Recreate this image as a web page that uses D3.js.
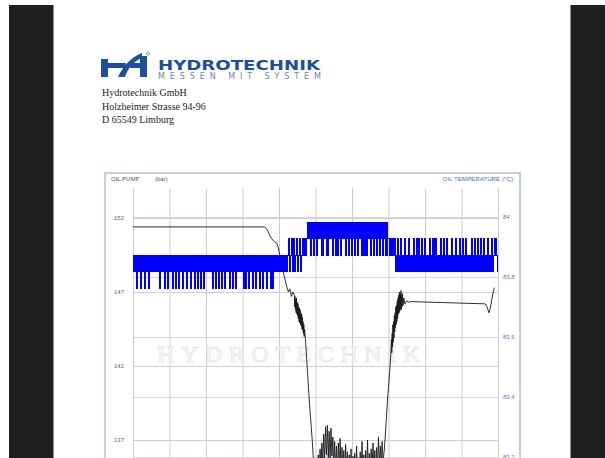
<!DOCTYPE html>
<html>
<head>
<meta charset="utf-8">
<script src="https://cdn.jsdelivr.net/npm/d3@7"></script>
<style>
body { margin: 0; background: #fff; overflow: hidden; }
svg { display: block; }
</style>
</head>
<body>
<div id="chart"></div>
<script>
var timeTicks = [0, 10, 20, 30, 40, 50, 60, 70, 80, 90, 100];
var pumpTicks = [137, 142, 147, 152];
var tempTicks = [83.2, 83.4, 83.6, 83.8, 84];

// temperature sensor steps (°C) and the sampled step index, one char per 0.2 s
var tempLevels = [83.763, 83.818, 83.873, 83.928, 83.983];
var sampleStep = 0.2;
var tempCodes = [
    "2121202121 2021210212 1202121212 1212120212 2121021202",
    "1212021201 2120212102 1212021210 2121202120 1210212021",
    "2121212120 2120212021 2102120212 1202121021 2021212121",
    "2021202120 2121021202 1212021201 2120212102 1202121212",
    "1212121212 2123212321 3212321232 1232323234 3434243424",
    "3424343424 2434342434 3434243424 2434243434 3424342434",
    "2434243424 3434243424 2434342434 2434243424 3424342423",
    "3232323232 1213121312 2131212131 2121312131 2131213121",
    "3121213121 3121312121 2131213121 3121213121 2131212131",
    "2131213121 2121312131 2131213121 3121213121 2131232321"
];

// oil pump pressure [s, bar]
var pumpHead = [[0,151.4],[36.0,151.4],[36.5,151.3],[37.0,151.1],[37.5,150.8],[38.0,150.6],[38.7,150.4],
    [39.4,150.3],[39.8,150.0],[40.3,149.4],[40.8,148.8],[41.3,148.2],[41.8,147.7],[42.2,147.3],
    [42.6,147.0],[43.0,147.2],[43.4,146.7],[43.8,147.0],[44.2,146.8]];
var pumpDrop = [[44.3,146.0],[44.4,146.7],[44.5,145.8],[44.6,146.5],[44.7,145.6],[44.8,146.6],[44.9,145.5],
    [45.0,146.3],[45.1,145.4],[45.2,146.2],[45.3,145.2],[45.4,146.0],[45.5,145.0],[45.6,145.9],[45.7,144.9],
    [45.8,145.8],[45.9,144.8],[46.0,145.6],[46.1,144.7],[46.2,145.5],[46.3,144.5],[46.4,145.3],[46.5,144.4],
    [46.6,145.0],[46.7,144.2],[46.8,144.8],[46.9,144.0],[47.0,144.5],[47.3,143.6],[47.6,142.4],[47.9,141.2],
    [48.2,140.0],[48.5,139.0],[48.8,138.0],[49.1,137.0],[49.4,135.8],[49.7,134.8],[50.0,134.2]];
var pumpTrough = [[50.25,135.6],[50.5,134.8],[50.75,136.0],[51.0,135.0],[51.25,136.4],[51.5,135.2],[51.75,136.8],
    [52.0,135.4],[52.25,137.4],[52.5,135.6],[52.75,137.9],[53.0,136.0],[53.25,138.0],[53.5,135.8],[53.75,137.6],
    [54.0,135.5],[54.25,137.8],[54.5,135.9],[54.75,137.2],[55.0,135.3],[55.25,136.9],[55.5,135.0],[55.75,136.6],
    [56.0,134.8],[56.25,136.8],[56.5,135.1],[56.75,137.1],[57.0,134.9],[57.25,136.5],[57.5,134.7],[57.75,136.3],
    [58.0,134.6],[58.25,136.7],[58.5,134.9],[58.75,136.2],[59.0,134.5],[59.25,136.0],[59.5,134.7],[59.75,136.4],
    [60.0,134.6],[60.25,135.9],[60.5,134.4],[60.75,136.1],[61.0,134.5],[61.25,136.6],[61.5,134.8],[61.75,135.8],
    [62.0,134.3],[62.25,136.2],[62.5,134.6],[62.75,136.9],[63.0,134.7],[63.25,136.0],[63.5,134.4],[63.75,136.3],
    [64.0,134.5],[64.25,137.0],[64.5,134.8],[64.75,136.1],[65.0,134.6],[65.25,136.4],[65.5,134.9],[65.75,136.8],
    [66.0,135.0],[66.25,136.3],[66.5,134.7],[66.75,136.5],[67.0,135.2],[67.25,137.2],[67.5,135.4],[67.75,136.6],
    [68.0,135.3],[68.25,136.9],[68.5,135.6]];
var pumpRise = [[68.8,136.2],[69.1,137.2],[69.4,138.4],[69.7,139.6],[70.0,140.6],[70.3,141.6],[70.6,142.6],
    [70.8,143.8],[70.9,142.9],[71.0,144.2],[71.1,143.3],[71.2,144.8],[71.3,143.6],[71.4,145.0],[71.5,143.9],
    [71.6,145.4],[71.7,144.3],[71.8,145.6],[71.9,144.6],[72.0,146.0],[72.1,144.8],[72.2,146.1],[72.3,145.0],
    [72.4,146.4],[72.5,145.2],[72.6,146.6],[72.7,145.5],[72.8,146.8],[72.9,145.6],[73.0,147.0],[73.1,145.7],
    [73.2,146.9],[73.3,145.9],[73.4,147.1],[73.5,145.8],[73.6,146.8],[73.7,146.0],[73.8,146.9],[74.0,146.1],
    [74.2,146.6],[74.5,146.2],[75.0,146.4],[75.5,146.3]];
var pumpTail = [[76.0,146.35],[96.5,146.2],[97.0,146.0],[97.5,145.6],[97.9,145.9],[98.3,146.5],[98.7,147.0],
    [99.0,147.3]];

var addressLines = ["Hydrotechnik GmbH", "Holzheimer Strasse 94-96", "D 65549 Limburg"];

// ---------- layout ----------
var W = 605, H = 458;
var plotLeft = 133, plotRight = 498, plotTop = 188, plotBottom = 560;

var svg = d3.select("#chart").append("svg")
    .attr("width", W)
    .attr("height", H)
    .style("background", "#fff");

// viewer frame (dark side bars)
svg.append("rect").attr("x", 9).attr("y", 5).attr("width", 44).attr("height", H).attr("fill", "#1f1f1f");
svg.append("rect").attr("x", 571).attr("y", 5).attr("width", 34).attr("height", H).attr("fill", "#1f1f1f");
svg.append("line").attr("x1", 53.5).attr("x2", 53.5).attr("y1", 5).attr("y2", H).attr("stroke", "#8a8a8a");
svg.append("line").attr("x1", 570.5).attr("x2", 570.5).attr("y1", 5).attr("y2", H).attr("stroke", "#8a8a8a");

/******************************
/* logo + address
******************************/
var blue = "#1c4f9f";
var logo = svg.append("g").attr("transform", "translate(101,52)").attr("fill", blue);
logo.append("path").attr("d", "M0,7 L7,7 L7,25 L0,25 Z");
logo.append("path").attr("d", "M0,11 L25,11 L24,16 L0,16 Z");
logo.append("path").attr("d", "M17,25 C22,14 30,5 41,1 L41,6 C33,9 27,16 24,25 Z");
logo.append("path").attr("d", "M39,4 L46,4 L46,25 L39,25 Z");
logo.append("path").attr("d", "M30,11 L46,11 L46,16 L29,16 Z");
logo.append("circle").attr("cx", 47).attr("cy", 1.5).attr("r", 1.5).attr("fill", "none")
    .attr("stroke", blue).attr("stroke-width", 0.6);

svg.append("text")
    .attr("x", 158).attr("y", 69.5)
    .attr("textLength", 162).attr("lengthAdjust", "spacingAndGlyphs")
    .attr("font-family", "DejaVu Sans").attr("font-weight", "bold").attr("font-size", 14)
    .attr("fill", blue)
    .text("HYDROTECHNIK");
svg.append("text")
    .attr("x", 158).attr("y", 79)
    .attr("textLength", 163).attr("lengthAdjust", "spacing")
    .attr("font-family", "DejaVu Sans").attr("font-size", 8)
    .attr("fill", "#6f86b0")
    .text("MESSEN MIT SYSTEM");

svg.selectAll("text.addr")
    .data(addressLines)
    .enter()
    .append("text")
    .attr("class", "addr")
    .attr("x", 102)
    .attr("y", function(d, i) { return 96 + i * 13.5; })
    .attr("font-family", "Liberation Serif").attr("font-size", 10)
    .attr("fill", "#222")
    .text(function(d) { return d; });

/******************************
/* chart
******************************/
svg.append("rect")
    .attr("x", 105).attr("y", 173).attr("width", 415).attr("height", 400)
    .attr("fill", "#fff").attr("stroke", "#a9c2de").attr("stroke-width", 1.5);

var x = d3.scaleLinear().domain([0, 100]).range([plotLeft, plotRight]);
var yPump = d3.scaleLinear().domain([137, 152]).range([440, 218]);
var yTemp = d3.scaleLinear().domain([83.2, 84]).range([457, 217]);

var deFormat = d3.formatLocale({ decimal: ",", thousands: ".", grouping: [3], currency: ["", " €"] }).format(".1~f");

// temperature grid + labels
var tempAxis = svg.append("g")
    .attr("transform", "translate(" + plotRight + ",0)")
    .call(d3.axisRight(yTemp).tickValues(tempTicks).tickSize(-(plotRight - plotLeft)).tickPadding(5).tickFormat(deFormat));
tempAxis.select(".domain").remove();
tempAxis.selectAll("line").attr("stroke", "#d3d3f6");
tempAxis.selectAll("text").attr("fill", "#6b6be0").attr("font-size", 6).attr("font-family", "Liberation Sans");

// pressure grid + labels
var pumpAxis = svg.append("g")
    .attr("transform", "translate(" + plotLeft + ",0)")
    .call(d3.axisLeft(yPump).tickValues(pumpTicks).tickSize(-(plotRight - plotLeft)).tickPadding(9));
pumpAxis.select(".domain").remove();
pumpAxis.selectAll("line").attr("stroke", "#cfcfd8");
pumpAxis.selectAll("text").attr("fill", "#666").attr("font-size", 6).attr("font-family", "Liberation Sans");

// time grid
var timeAxis = svg.append("g")
    .attr("transform", "translate(0," + plotTop + ")")
    .call(d3.axisBottom(x).tickValues(timeTicks).tickSize(plotBottom - plotTop).tickFormat(""));
timeAxis.select(".domain").remove();
timeAxis.selectAll("line").attr("stroke", "#cdcdcd");

svg.append("text").attr("x", 111).attr("y", 181)
    .attr("font-family", "Liberation Sans").attr("font-size", 6).attr("fill", "#555").text("OIL PUMP");
svg.append("text").attr("x", 155).attr("y", 181)
    .attr("font-family", "Liberation Sans").attr("font-size", 6).attr("fill", "#555").text("(bar)");
svg.append("text").attr("x", 513).attr("y", 181).attr("text-anchor", "end")
    .attr("font-family", "Liberation Sans").attr("font-size", 6.2).attr("fill", "#4c6ee0").text("OIL TEMPERATURE (°C)");

// watermark
svg.append("text")
    .attr("x", 157).attr("y", 362)
    .attr("textLength", 263).attr("lengthAdjust", "spacing")
    .attr("font-family", "Liberation Serif").attr("font-size", 24)
    .attr("fill", "#fbfbfb").attr("stroke", "#e2e2e2").attr("stroke-width", 0.7)
    .text("HYDROTECHNIK");

// pressure trace
var pumpData = pumpHead.concat(pumpDrop, pumpTrough, pumpRise, pumpTail);
var pumpLine = d3.line()
    .x(function(d) { return x(d[0]); })
    .y(function(d) { return yPump(d[1]); });
svg.append("path")
    .datum(pumpData)
    .attr("d", pumpLine)
    .attr("fill", "none")
    .attr("stroke", "#1a1a1a")
    .attr("stroke-width", 0.9);

// temperature trace: one rect per sample, spanning the levels it touches
var tempData = tempCodes.join("").replace(/ /g, "").split("").map(function(c, i) {
    return { t: i * sampleStep, v: tempLevels[+c] };
});
var tempSteps = tempData.slice(1).map(function(d, i) {
    return { t0: tempData[i].t, t1: d.t, from: tempData[i].v, to: d.v };
});
svg.append("g")
    .attr("fill", "#0000ff")
    .attr("shape-rendering", "crispEdges")
    .selectAll("rect")
    .data(tempSteps)
    .enter()
    .append("rect")
    .attr("x", function(d) { return x(d.t0); })
    .attr("width", function(d) { return x(d.t1) - x(d.t0) + 0.6; })
    .attr("y", function(d) { return yTemp(Math.max(d.from, d.to)) - 0.5; })
    .attr("height", function(d) { return Math.abs(yTemp(d.from) - yTemp(d.to)) + 1; });
</script>
</body>
</html>
